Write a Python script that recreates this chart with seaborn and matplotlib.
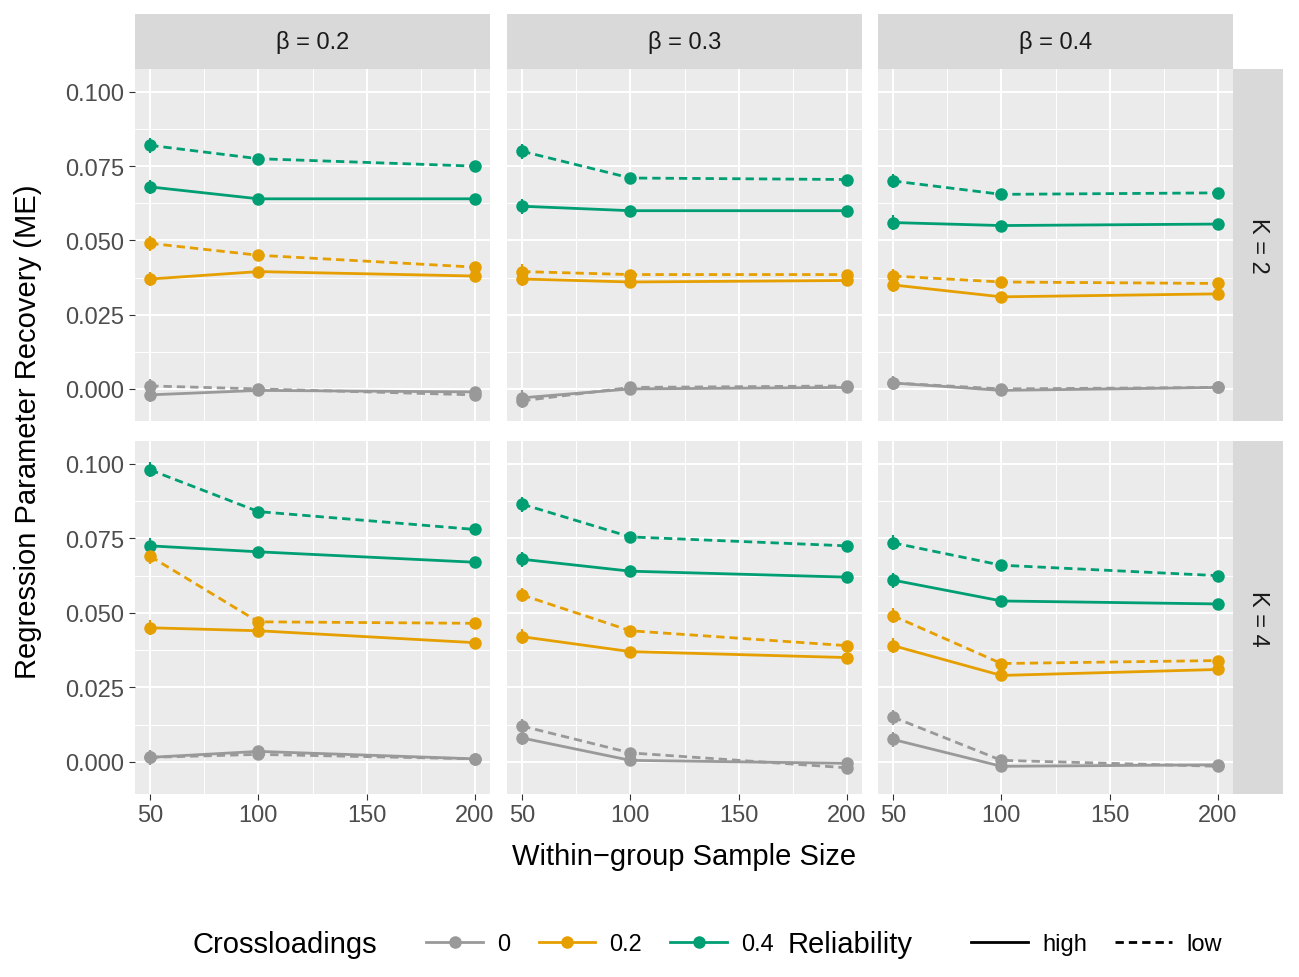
import numpy as np
import pandas as pd
import matplotlib
matplotlib.use("Agg")
import matplotlib.pyplot as plt
import seaborn as sns
from matplotlib.lines import Line2D

# -------------------------------------------------
# Data
# -------------------------------------------------
sizes = [50, 100, 200]
betas = ["0.2", "0.3", "0.4"]
ks = ["2", "4"]
cross = ["0", "0.2", "0.4"]
reliab = ["high", "low"]

# values[(K, beta)][(cross, reliability)]
values = {
    ("2", "0.2"): {("0.4", "low"): [0.082, 0.0775, 0.075], ("0.4", "high"): [0.068, 0.064, 0.064],
                   ("0.2", "low"): [0.049, 0.045, 0.041], ("0.2", "high"): [0.037, 0.0395, 0.038],
                   ("0", "low"): [0.001, 0.000, -0.002], ("0", "high"): [-0.002, -0.0005, -0.001]},
    ("2", "0.3"): {("0.4", "low"): [0.080, 0.071, 0.0705], ("0.4", "high"): [0.0615, 0.060, 0.060],
                   ("0.2", "low"): [0.0395, 0.0385, 0.0385], ("0.2", "high"): [0.037, 0.036, 0.0365],
                   ("0", "low"): [-0.004, 0.0005, 0.001], ("0", "high"): [-0.003, 0.000, 0.0005]},
    ("2", "0.4"): {("0.4", "low"): [0.070, 0.0655, 0.066], ("0.4", "high"): [0.056, 0.055, 0.0555],
                   ("0.2", "low"): [0.038, 0.036, 0.0355], ("0.2", "high"): [0.035, 0.031, 0.032],
                   ("0", "low"): [0.002, 0.000, 0.0005], ("0", "high"): [0.002, -0.0005, 0.0005]},
    ("4", "0.2"): {("0.4", "low"): [0.098, 0.084, 0.078], ("0.4", "high"): [0.0725, 0.0705, 0.067],
                   ("0.2", "low"): [0.069, 0.047, 0.0465], ("0.2", "high"): [0.045, 0.044, 0.040],
                   ("0", "low"): [0.0015, 0.0025, 0.001], ("0", "high"): [0.0015, 0.0035, 0.001]},
    ("4", "0.3"): {("0.4", "low"): [0.0865, 0.0755, 0.0725], ("0.4", "high"): [0.068, 0.064, 0.062],
                   ("0.2", "low"): [0.056, 0.044, 0.039], ("0.2", "high"): [0.042, 0.037, 0.035],
                   ("0", "low"): [0.012, 0.003, -0.002], ("0", "high"): [0.008, 0.0005, -0.0005]},
    ("4", "0.4"): {("0.4", "low"): [0.0735, 0.066, 0.0625], ("0.4", "high"): [0.061, 0.054, 0.053],
                   ("0.2", "low"): [0.049, 0.033, 0.034], ("0.2", "high"): [0.039, 0.029, 0.031],
                   ("0", "low"): [0.015, 0.0005, -0.0015], ("0", "high"): [0.0075, -0.0015, -0.001]},
}
# standard errors per sample size (approximate)
errors = [0.0025, 0.0008, 0.0008]

rows = []
for (k, b), d in values.items():
    for (c, r), ys in d.items():
        for n, y, e in zip(sizes, ys, errors):
            rows.append(dict(K=k, beta=b, cross=c, rel=r, n=n, me=y, se=e))
df = pd.DataFrame(rows)

palette = {"0": "#999999", "0.2": "#E69F00", "0.4": "#009E73"}
dashes = {"high": "", "low": (3, 1.8)}

# -------------------------------------------------
# Layout (ggplot-like facet grid)
# -------------------------------------------------
W, H = 1299, 978
plt.rcParams["font.family"] = ["Liberation Sans", "DejaVu Sans"]
fig = plt.figure(figsize=(W / 100, H / 100), dpi=100)
col_x = [(135, 490), (507, 862), (878, 1233)]
row_y = [(70, 422), (442, 795)]
strip_top = (15, 70)
strip_right = (1233, 1283)

def rect(x0, x1, y0, y1):
    return [x0 / W, 1 - y1 / H, (x1 - x0) / W, (y1 - y0) / H]

for i, k in enumerate(ks):
    for j, b in enumerate(betas):
        ax = fig.add_axes(rect(*col_x[j], *row_y[i]))
        ax.set_facecolor("#EBEBEB")
        sub = df[(df.K == k) & (df.beta == b)]
        for (c, r), g in sub.groupby(["cross", "rel"]):
            ax.errorbar(g.n, g.me, yerr=g.se, fmt="none", ecolor=palette[c], elinewidth=1.5, zorder=3)
        sns.lineplot(data=sub, x="n", y="me", hue="cross", style="rel", palette=palette,
                     dashes=dashes, markers={"high": "o", "low": "o"}, markersize=9,
                     markeredgewidth=0, linewidth=2, errorbar=None, legend=False, ax=ax, zorder=4)
        ax.set_xlim(43, 207)
        ax.set_ylim(-0.0108, 0.1077)
        ax.set_xticks([50, 100, 150, 200])
        ax.set_xticks([75, 125, 175], minor=True)
        ax.set_yticks([0, 0.025, 0.05, 0.075, 0.1])
        ax.set_yticks([0.0125, 0.0375, 0.0625, 0.0875], minor=True)
        ax.grid(which="major", color="white", linewidth=1.4)
        ax.grid(which="minor", color="white", linewidth=0.7)
        ax.set_axisbelow(True)
        for s in ax.spines.values():
            s.set_visible(False)
        ax.tick_params(which="both", length=0)
        ax.tick_params(which="major", length=4, color="#333333", labelsize=17, labelcolor="#4D4D4D")
        ax.set_xlabel("")
        ax.set_ylabel("")
        if j == 0:
            ax.set_yticklabels(["0.000", "0.025", "0.050", "0.075", "0.100"])
        else:
            ax.set_yticklabels([])
            ax.tick_params(axis="y", which="major", length=0)
        if i == 0:
            ax.set_xticklabels([])
            ax.tick_params(axis="x", which="major", length=0)
        if i == 0:
            sax = fig.add_axes(rect(*col_x[j], *strip_top))
            sax.set_facecolor("#D9D9D9")
            sax.set_xticks([]); sax.set_yticks([])
            for s in sax.spines.values():
                s.set_visible(False)
            sax.text(0.5, 0.5, "β = " + b, ha="center", va="center", fontsize=17, color="#1A1A1A")
        if j == 2:
            sax = fig.add_axes(rect(*strip_right, *row_y[i]))
            sax.set_facecolor("#D9D9D9")
            sax.set_xticks([]); sax.set_yticks([])
            for s in sax.spines.values():
                s.set_visible(False)
            sax.text(0.5, 0.5, "K = " + k, ha="center", va="center", rotation=-90,
                     fontsize=17, color="#1A1A1A")

fig.text(684 / W, 1 - 857 / H, "Within\u2212group Sample Size", ha="center", va="center", fontsize=21)
fig.text(28 / W, 1 - 432 / H, "Regression Parameter Recovery (ME)", ha="center", va="center",
         rotation=90, fontsize=21)

# -------------------------------------------------
# Legends (title inline on the left, ggplot-style)
# -------------------------------------------------
ly = 1 - 945 / H
fig.text(193 / W, ly, "Crossloadings", ha="left", va="center", fontsize=21)
h1 = [Line2D([], [], color=palette[c], marker="o", markersize=8, linewidth=2) for c in cross]
fig.legend(h1, cross, loc="center left", bbox_to_anchor=(405 / W, ly),
           ncol=3, frameon=False, fontsize=17, handlelength=2.4,
           columnspacing=1.2, handletextpad=0.6)
fig.text(788 / W, ly, "Reliability", ha="left", va="center", fontsize=21)
h2 = [Line2D([], [], color="black", linewidth=2),
      Line2D([], [], color="black", linewidth=2, linestyle=(0, (3, 1.8)))]
fig.legend(h2, reliab, loc="center left", bbox_to_anchor=(950 / W, ly),
           ncol=2, frameon=False, fontsize=17, handlelength=2.4,
           columnspacing=1.2, handletextpad=0.6)

fig.savefig("out.png", dpi=100)
